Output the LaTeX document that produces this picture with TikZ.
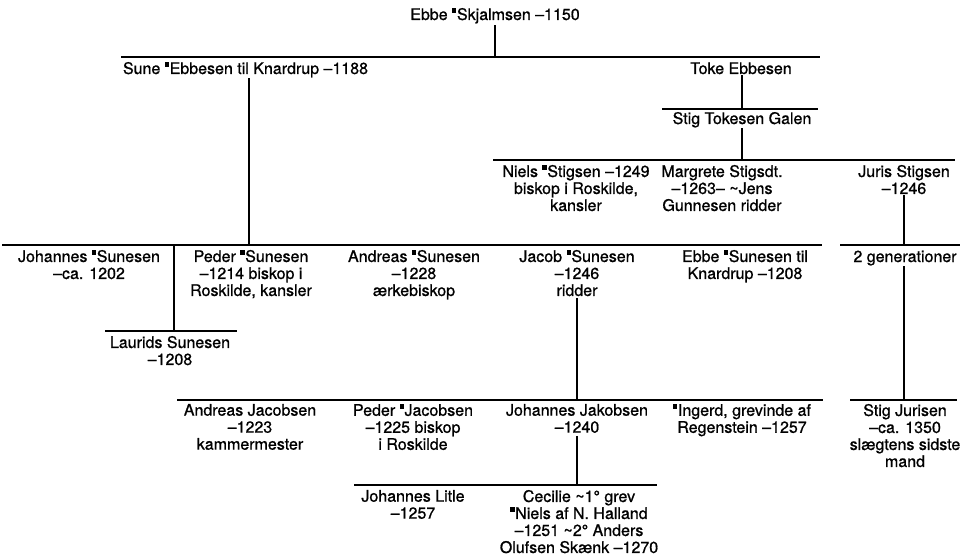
\documentclass[tikz,border=0pt]{standalone}
\usepackage{fontspec}
\setmainfont[FakeBold=0.9]{TeX Gyre Heros}
\usetikzlibrary{calc}
\newcommand{\sqm}{\rule[7pt]{4.3pt}{4.8pt}\kern0.6pt}
\newcommand{\tld}{\textasciitilde}
\begin{document}
\begin{tikzpicture}[x=1pt,y=-1pt]
\tikzset{
  person/.style={inner sep=0pt, outer sep=0pt, align=center, anchor=north,
    font=\fontsize{16}{17}\selectfont, execute at begin node={\rule{0pt}{12pt}}},
  bar/.style={line width=1.5pt},
  link/.style={line width=1.2pt}
}
\useasboundingbox (0,0) rectangle (973,556);
% ---- nodes ----
\node[person] (ebbe) at (495,8) {Ebbe \sqm Skjalmsen –1150};
\node[person,anchor=north west] (sune) at (123,62) {Sune \sqm Ebbesen til Knardrup –1188};
\node[person] (toke) at (741,62) {Toke Ebbesen};
\node[person] (stig) at (742,112) {Stig Tokesen Galen};
\node[person] (niels) at (576,165) {Niels \sqm Stigsen –1249\\biskop i Roskilde,\\kansler};
\node[person] (margrete) at (722,165) {Margrete Stigsdt.\\–1263– \tld Jens\\Gunnesen ridder};
\node[person] (juris) at (904,165) {Juris Stigsen\\–1246};
\node[person] (johS) at (89,250) {Johannes \sqm Sunesen\\–ca. 1202};
\node[person] (pederS) at (251,250) {Peder \sqm Sunesen\\–1214 biskop i\\Roskilde, kansler};
\node[person] (andreasS) at (414,250) {Andreas \sqm Sunesen\\–1228\\ærkebiskop};
\node[person] (jacob) at (577,250) {Jacob \sqm Sunesen\\–1246\\ridder};
\node[person] (ebbeS) at (745,250) {Ebbe \sqm Sunesen til\\Knardrup –1208};
\node[person] (gen) at (905,250) {2 generationer};
\node[person] (laurids) at (170,336) {Laurids Sunesen\\–1208};
\node[person] (andreasJ) at (250,404) {Andreas Jacobsen\\–1223\\kammermester};
\node[person] (pederJ) at (413,404) {Peder \sqm Jacobsen\\–1225 biskop\\i Roskilde};
\node[person] (johJ) at (577,404) {Johannes Jakobsen\\–1240};
\node[person] (ingerd) at (742,404) {\sqm Ingerd, grevinde af\\Regenstein –1257};
\node[person] (stigJ) at (905,404) {Stig Jurisen\\–ca. 1350\\slægtens sidste\\mand};
\node[person] (litle) at (413,490) {Johannes Litle\\–1257};
\node[person] (cecilie) at (579,490) {Cecilie \tld 1° grev\\\sqm Niels af N. Halland\\–1251 \tld 2° Anders\\Olufsen Skænk –1270};
% ---- bars ----
\coordinate (b1L) at (121,57);  \coordinate (b1R) at (820,57);
\coordinate (b2L) at (662,109); \coordinate (b2R) at (818,109);
\coordinate (b3L) at (493,160); \coordinate (b3R) at (955,160);
\coordinate (b4L) at (2,245);   \coordinate (b4R) at (822,245);
\coordinate (b4gL) at (840,245); \coordinate (b4gR) at (960,245);
\coordinate (b5L) at (105,331); \coordinate (b5R) at (237,331);
\coordinate (b6L) at (177,400); \coordinate (b6R) at (823,400);
\coordinate (b6gL) at (850,400); \coordinate (b6gR) at (957,400);
\coordinate (b7L) at (354,485); \coordinate (b7R) at (657,485);
\foreach \a/\b in {b1L/b1R,b2L/b2R,b3L/b3R,b4L/b4R,b4gL/b4gR,b5L/b5R,b6L/b6R,b6gL/b6gR,b7L/b7R}
  \draw[bar] (\a) -- (\b);
% ---- descent x positions ----
\coordinate (xE) at (495,0);
\coordinate (xS) at (249,0);
\coordinate (xT) at (742,0);
\coordinate (xJ) at (904,0);
\coordinate (xL) at (174,0);
\coordinate (xC) at (577,0);
% ---- connectors ----
\draw[link] ([yshift=-2pt]xE |- ebbe.south) -- (xE |- b1L);
\draw[link] ([yshift=-1pt]xS |- sune.south) -- (xS |- b4L);
\draw[link] ([yshift=-1pt]xT |- toke.south) -- (xT |- b2L);
\draw[link] ([yshift=-1pt]xT |- stig.south) -- (xT |- b3L);
\draw[link] ([yshift=-1pt]xJ |- juris.south) -- (xJ |- b4gL);
\draw[link] (xL |- b4L) -- (xL |- b5L);
\draw[link] ([yshift=-2pt]xC |- jacob.south) -- (xC |- b6L);
\draw[link] ([yshift=-1pt]xJ |- gen.south) -- (xJ |- b6gL);
\draw[link] ([yshift=-3pt]xC |- johJ.south) -- (xC |- b7L);
\end{tikzpicture}
\end{document}
